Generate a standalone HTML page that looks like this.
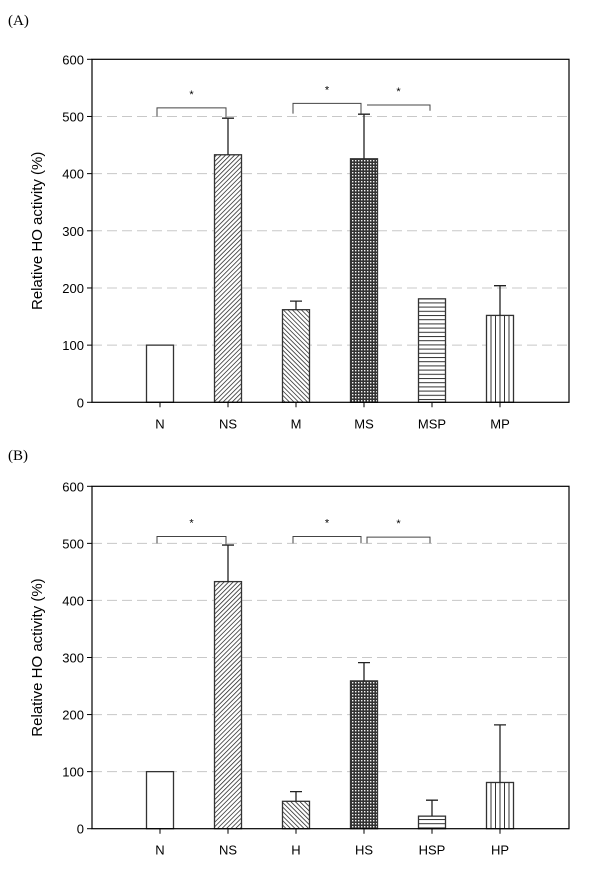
<!DOCTYPE html>
<html><head><meta charset="utf-8"><style>
body{margin:0;background:#fff;width:600px;height:874px;overflow:hidden}
svg text{font-family:"Liberation Sans",Arial,sans-serif}
</style></head><body>
<svg id="fig" width="600" height="874" viewBox="0 0 600 874" xmlns="http://www.w3.org/2000/svg">
<defs>
<pattern id="pSlash" patternUnits="userSpaceOnUse" width="3.2" height="3.2" patternTransform="rotate(45)"><rect width="3.2" height="3.2" fill="#fff"/><line x1="0" y1="0" x2="0" y2="3.2" stroke="#222" stroke-width="1.5"/></pattern>
<pattern id="pBack" patternUnits="userSpaceOnUse" width="3.2" height="3.2" patternTransform="rotate(-45)"><rect width="3.2" height="3.2" fill="#fff"/><line x1="0" y1="0" x2="0" y2="3.2" stroke="#222" stroke-width="1.5"/></pattern>
<pattern id="pCross" patternUnits="userSpaceOnUse" width="3" height="3"><rect width="3" height="3" fill="#333"/><rect x="1" y="1" width="1.4" height="1.4" fill="#f4f4f4"/></pattern>
<pattern id="pHoriz" patternUnits="userSpaceOnUse" width="4" height="4.2"><rect width="4" height="4.2" fill="#fff"/><line x1="0" y1="0.5" x2="4" y2="0.5" stroke="#333" stroke-width="1"/></pattern>
<pattern id="pVert" patternUnits="userSpaceOnUse" width="4.5" height="4"><rect width="4.5" height="4" fill="#fff"/><line x1="0.5" y1="0" x2="0.5" y2="4" stroke="#333" stroke-width="1"/></pattern>
</defs>
<text x="8" y="25" font-size="15" style="font-family:'Liberation Serif',serif">(A)</text>
<text x="8" y="460" font-size="15" style="font-family:'Liberation Serif',serif">(B)</text>
</svg>
<script>
const catsA=["N","NS","M","MS","MSP","MP"];
const valsA=[100,433,162,426,181,152];
const errA=[0,497,177,504,0,204];
const catsB=["N","NS","H","HS","HSP","HP"];
const valsB=[100,433,48,259,22,81];
const errB=[0,497,65,291,50,182];
const fills=["#fff","url(#pSlash)","url(#pBack)","url(#pCross)","url(#pHoriz)","url(#pVert)"];
const yTicks=[0,100,200,300,400,500,600];
// brackets: [leftIdx,rightIdx,topValue,leftDrop,rightDrop]
const brA=[[0,1,515,500,497],[2,3,523,505,505],[3,4,520,520,510]];
const brB=[[0,1,512,500,497],[2,3,512,500,500],[3,4,511,500,500]];
const NS="http://www.w3.org/2000/svg";
const svg=document.getElementById('fig');
function mk(tag,attrs,parent){const e=document.createElementNS(NS,tag);for(const k in attrs)e.setAttribute(k,attrs[k]);(parent||svg).appendChild(e);return e;}
function panel(id,top,bottom,cats,vals,errs,brs){
  const left=92,right=569,xs0=160,step=68,bw=27;
  const g=mk('g',{});
  
  
  const y=v=>bottom-(v/600)*(bottom-top);
  const x=i=>xs0+i*step;
  yTicks.forEach(t=>{
    if(t>0&&t<600){const l=mk('line',{x1:left,x2:right,y1:y(t),y2:y(t),stroke:'#c8c8c8','stroke-width':1,'stroke-dasharray':'10,5'},g);
    
    }
    const tk=mk('line',{x1:left-5,x2:left,y1:y(t),y2:y(t),stroke:'#000'},g);
    
    
    const tx=mk('text',{x:left-8,y:y(t)+5,'font-size':13,'text-anchor':'end'},g);tx.textContent=t;
    
    
  });
  cats.forEach((c,i)=>{
    const r=mk('rect',{x:x(i)-bw/2,y:y(vals[i]),width:bw,height:y(0)-y(vals[i]),fill:fills[i],stroke:'#333','stroke-width':1.3},g);
    
    
    if(errs[i]>vals[i]){
      const e=mk('path',{d:`M${x(i)} ${y(vals[i])}V${y(errs[i])}M${x(i)-6} ${y(errs[i])}H${x(i)+6}`,stroke:'#222','stroke-width':1.3,fill:'none'},g);
      
      
    }
    const tk=mk('line',{x1:x(i),x2:x(i),y1:bottom,y2:bottom+5,stroke:'#000'},g);
    
    
    const tx=mk('text',{x:x(i),y:bottom+26,'font-size':13,'text-anchor':'middle'},g);tx.textContent=c;
    
    
  });
  brs.forEach((b,k)=>{
    const xl=x(b[0])+(k===2?3:-3),xr=x(b[1])+(k===1?-3:-2);
    const p=mk('path',{d:`M${xl} ${y(b[3])}V${y(b[2])}H${xr}V${y(b[4])}`,stroke:'#444','stroke-width':1,fill:'none'},g);
    
    
    const s=mk('text',{x:(xl+xr)/2,y:y(b[2])-10,'font-size':11,'text-anchor':'middle'},g);s.textContent='*';
    
    
  });
  const fr=mk('rect',{x:left,y:top,width:right-left,height:bottom-top,fill:'none',stroke:'#000','stroke-width':1.2},g);
  
  
  const cy=(top+bottom)/2;
  const yt=mk('text',{x:42,y:cy,'font-size':15,'text-anchor':'middle',transform:`rotate(-90 42 ${cy})`},g);yt.textContent='Relative HO activity (%)';
  
  
}
panel('a',59.3,402.3,catsA,valsA,errA,brA);
panel('b',486.3,828.7,catsB,valsB,errB,brB);
</script>
</body></html>
